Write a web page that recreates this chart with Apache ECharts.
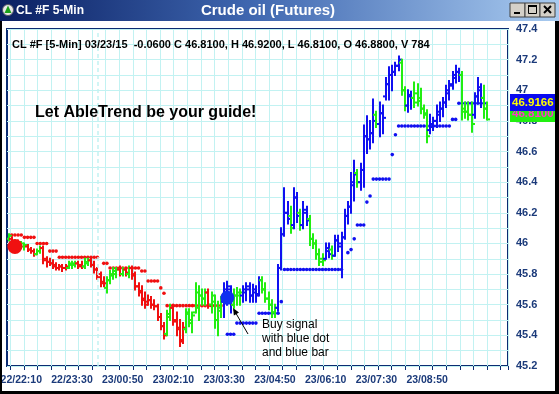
<!DOCTYPE html>
<html>
<head>
<meta charset="utf-8">
<script src="https://cdn.jsdelivr.net/npm/echarts@6/dist/echarts.min.js"></script>
<style>
html, body { margin: 0; padding: 0; background: #fff; }
#main { width: 559px; height: 394px; }
</style>
</head>
<body>
<div id="main"></div>
<script>
// x axis labels shown under the chart
var tickLabels = ['22/22:10', '22/23:30', '23/00:50', '23/02:10', '23/03:30', '23/04:50', '23/06:10', '23/07:30', '23/08:50'];

// 5-min OHLC bars
var opens = [
  46.03, 46.03, 46.0, 46.01, 45.98, 45.98, 45.98, 45.96, 45.95, 45.93,
  45.95, 45.97, 45.9, 45.88, 45.87, 45.86, 45.84, 45.85, 45.84, 45.84,
  45.86, 45.86, 45.87, 45.86, 45.85, 45.87, 45.89, 45.86, 45.83, 45.8,
  45.75, 45.71, 45.76, 45.79, 45.8, 45.83, 45.8, 45.83, 45.8, 45.84,
  45.8, 45.72, 45.69, 45.64, 45.62, 45.63, 45.6, 45.59, 45.52, 45.46,
  45.41, 45.52, 45.58, 45.5, 45.45, 45.37, 45.44, 45.54, 45.48, 45.55,
  45.58, 45.66, 45.64, 45.68, 45.6, 45.62, 45.5, 45.56, 45.62, 45.68,
  45.7, 45.6, 45.66, 45.66, 45.66, 45.68, 45.7, 45.66, 45.68, 45.67,
  45.76, 45.7, 45.64, 45.6, 45.55, 45.58, 45.84, 46.06, 46.2, 46.18,
  46.12, 46.3, 46.2, 46.12, 46.2, 46.16, 46.03, 46.0, 45.93, 45.9,
  45.9, 45.95, 45.96, 45.92, 46.02, 45.98, 46.04, 46.18, 46.24, 46.38,
  46.46, 46.4, 46.48, 46.7, 46.68, 46.72, 46.84, 46.78, 46.85, 46.96,
  47.04, 47.1, 47.12, 47.16, 47.18, 47.0, 46.9, 46.96, 46.95, 46.98,
  46.95, 46.88, 46.84, 46.74, 46.76, 46.8, 46.84, 46.88, 46.92, 46.98,
  47.03, 47.08, 47.12, 47.1, 46.88, 46.86, 46.84, 46.84, 46.96, 47.0,
  46.95, 46.88
];
var highs = [
  46.06, 46.04, 46.02, 46.02, 46.01, 46.0, 45.99, 45.97, 45.96, 45.96,
  45.98, 45.98, 45.91, 45.9, 45.89, 45.87, 45.86, 45.86, 45.86, 45.88,
  45.88, 45.88, 45.88, 45.88, 45.9, 45.9, 45.9, 45.88, 45.84, 45.81,
  45.78, 45.78, 45.82, 45.84, 45.84, 45.85, 45.84, 45.84, 45.85, 45.85,
  45.81, 45.74, 45.72, 45.68, 45.66, 45.65, 45.63, 45.6, 45.54, 45.48,
  45.56, 45.6, 45.6, 45.55, 45.5, 45.48, 45.57, 45.57, 45.55, 45.74,
  45.72, 45.7, 45.7, 45.7, 45.68, 45.66, 45.62, 45.65, 45.74, 45.75,
  45.72, 45.7, 45.71, 45.7, 45.72, 45.74, 45.74, 45.73, 45.72, 45.78,
  45.78, 45.74, 45.68, 45.63, 45.6, 45.86, 46.1, 46.36, 46.27, 46.24,
  46.36, 46.33, 46.22, 46.27, 46.24, 46.18, 46.06, 46.02, 45.96, 45.93,
  46.0, 46.0, 45.98, 46.05, 46.05, 46.07, 46.22, 46.27, 46.46, 46.54,
  46.48, 46.52, 46.77, 46.83, 46.8, 46.94, 46.86, 46.92, 46.9, 47.08,
  47.15, 47.16, 47.18, 47.22, 47.2, 47.02, 47.0, 46.99, 47.05, 47.04,
  47.01, 46.9, 46.87, 46.84, 46.82, 46.9, 46.92, 46.95, 47.03, 47.06,
  47.12, 47.16, 47.14, 47.12, 46.92, 46.92, 46.92, 46.98, 47.08, 47.04,
  47.03, 46.92
];
var lows = [
  46.02, 45.98, 45.97, 45.97, 45.97, 45.96, 45.95, 45.94, 45.92, 45.93,
  45.94, 45.87, 45.85, 45.86, 45.84, 45.83, 45.83, 45.82, 45.83, 45.84,
  45.84, 45.85, 45.84, 45.84, 45.84, 45.86, 45.85, 45.81, 45.77, 45.72,
  45.72, 45.68, 45.74, 45.77, 45.78, 45.79, 45.79, 45.79, 45.78, 45.77,
  45.7, 45.66, 45.6, 45.58, 45.6, 45.58, 45.57, 45.5, 45.44, 45.38,
  45.4, 45.5, 45.47, 45.4, 45.33, 45.35, 45.42, 45.46, 45.42, 45.55,
  45.5, 45.6, 45.6, 45.58, 45.55, 45.45, 45.4, 45.52, 45.52, 45.6,
  45.55, 45.58, 45.6, 45.6, 45.62, 45.63, 45.62, 45.62, 45.62, 45.66,
  45.68, 45.62, 45.57, 45.52, 45.52, 45.56, 45.83, 46.05, 46.13, 46.07,
  46.1, 46.14, 46.09, 46.1, 46.12, 45.99, 45.97, 45.9, 45.86, 45.86,
  45.9, 45.91, 45.9, 45.92, 45.95, 45.78, 46.03, 46.13, 46.2, 46.28,
  46.37, 46.35, 46.37, 46.59, 46.62, 46.66, 46.76, 46.7, 46.72, 46.94,
  46.94, 47.0, 47.1, 47.13, 46.97, 46.87, 46.86, 46.88, 46.89, 46.9,
  46.85, 46.82, 46.66, 46.72, 46.74, 46.76, 46.8, 46.83, 46.89, 46.94,
  47.01, 47.05, 47.06, 46.81, 46.82, 46.81, 46.73, 46.82, 46.92, 46.89,
  46.82, 46.81
];
var closes = [
  46.05, 46.0, 46.01, 45.99, 46.0, 45.99, 45.96, 45.95, 45.93, 45.95,
  45.97, 45.89, 45.88, 45.87, 45.85, 45.84, 45.85, 45.84, 45.85, 45.87,
  45.87, 45.87, 45.85, 45.85, 45.88, 45.89, 45.86, 45.83, 45.78, 45.74,
  45.74, 45.76, 45.8, 45.82, 45.83, 45.8, 45.83, 45.81, 45.84, 45.79,
  45.72, 45.68, 45.63, 45.6, 45.63, 45.6, 45.59, 45.52, 45.46, 45.4,
  45.54, 45.58, 45.49, 45.44, 45.36, 45.45, 45.55, 45.5, 45.53, 45.68,
  45.66, 45.64, 45.68, 45.6, 45.66, 45.5, 45.58, 45.62, 45.7, 45.72,
  45.6, 45.66, 45.68, 45.68, 45.7, 45.72, 45.66, 45.7, 45.66, 45.76,
  45.7, 45.64, 45.6, 45.55, 45.58, 45.84, 46.06, 46.2, 46.16, 46.1,
  46.3, 46.18, 46.12, 46.22, 46.15, 46.03, 46.0, 45.93, 45.88, 45.89,
  45.97, 45.93, 45.92, 46.02, 46.0, 46.04, 46.18, 46.24, 46.4, 46.45,
  46.4, 46.48, 46.7, 46.68, 46.72, 46.8, 46.78, 46.85, 46.82, 47.04,
  47.1, 47.12, 47.16, 47.2, 47.0, 46.9, 46.97, 46.95, 46.92, 46.93,
  46.88, 46.85, 46.7, 46.78, 46.8, 46.86, 46.88, 46.92, 47.0, 47.04,
  47.1, 47.12, 47.1, 46.86, 46.86, 46.84, 46.78, 46.96, 47.02, 46.95,
  46.88, 46.81
];
// trend colour of each bar: r = down, g = neutral, b = up
var barColors = (
  'grgrggrrrg' + 'grrrrrrrrg' + 'ggrrggrrrr' + 'rggggrgrgr' + 'rrrrrrrrrr' +
  'ggrrrrgggg' + 'gggrggggbb' + 'bgggbbbbbb' + 'gggggbbbbg' + 'bbgbbggggg' +
  'bbgbbbbbbb' + 'gbbbbbgbbb' + 'bbbbggbbgg' + 'gggbbbbbbb' + 'bbbggggbbb' + 'gg'
).split('');

// trailing stop dots: [bar index, price]
var redStops = [
  [1, 46.055], [2, 46.055], [3, 46.055], [4, 46.055],
  [5, 46.04], [6, 46.04], [7, 46.04], [8, 46.04],
  [9, 46.0], [10, 46.0], [11, 46.0], [12, 46.0],
  [13, 45.95], [14, 45.95], [15, 45.95],
  [16, 45.91], [17, 45.91], [18, 45.91], [19, 45.91], [20, 45.91], [21, 45.91], [22, 45.91],
  [23, 45.91], [24, 45.91], [25, 45.91], [26, 45.91], [27, 45.91], [28, 45.91],
  [30, 45.87], [31, 45.87],
  [32, 45.84], [33, 45.84], [34, 45.84], [35, 45.84], [36, 45.84], [37, 45.84], [38, 45.84],
  [39, 45.84], [40, 45.84], [41, 45.84],
  [42, 45.82], [43, 45.82],
  [44, 45.755], [45, 45.755], [46, 45.755], [47, 45.755],
  [48, 45.71], [49, 45.675],
  [50, 45.594], [51, 45.594], [52, 45.594], [53, 45.594], [54, 45.594], [55, 45.594],
  [56, 45.594], [57, 45.594], [58, 45.594], [59, 45.594], [60, 45.594], [61, 45.594],
  [62, 45.594], [63, 45.594], [64, 45.594], [65, 45.594], [66, 45.594], [67, 45.594]
];
var blueStops = [
  [69, 45.407], [70, 45.407], [71, 45.407],
  [72, 45.48], [73, 45.48], [74, 45.48], [75, 45.48], [76, 45.48], [77, 45.48], [78, 45.48],
  [79, 45.544], [80, 45.544], [81, 45.544], [82, 45.544], [83, 45.544], [84, 45.544], [85, 45.544],
  [86, 45.62],
  [87, 45.83], [88, 45.83], [89, 45.83], [90, 45.83], [91, 45.83], [92, 45.83], [93, 45.83],
  [94, 45.83], [95, 45.83], [96, 45.83], [97, 45.83], [98, 45.83], [99, 45.83], [100, 45.83],
  [101, 45.83], [102, 45.83], [103, 45.83], [104, 45.83], [105, 45.83],
  [107, 45.94], [108, 45.96], [109, 46.03],
  [110, 46.12], [111, 46.12], [112, 46.12],
  [113, 46.27], [114, 46.31],
  [115, 46.42], [116, 46.42], [117, 46.42], [118, 46.42], [119, 46.42], [120, 46.42],
  [121, 46.58], [122, 46.71],
  [123, 46.767], [124, 46.767], [125, 46.767], [126, 46.767], [127, 46.767], [128, 46.767],
  [129, 46.767], [130, 46.767], [131, 46.767], [132, 46.767], [133, 46.767], [134, 46.767],
  [135, 46.767], [136, 46.767], [137, 46.767], [138, 46.767], [139, 46.767],
  [140, 46.81], [141, 46.81],
  [142, 46.915], [143, 46.915], [144, 46.915], [145, 46.915], [146, 46.915], [147, 46.915],
  [148, 46.915], [149, 46.915], [150, 46.915]
];
var sellSignal = [[2, 45.98]];
var buySignal = [[69, 45.646]];
var lastStop = 46.9166;
var lastClose = 46.81;
var sessionBreak = 28;

var colorMap = { r: '#f01010', g: '#22ee11', b: '#1010f0' };
var navy = '#1b3a7a';
var gridCyan = '#c2f2f2';
var font = '"Liberation Sans", Arial, sans-serif';

function pad(n) { return n < 10 ? '0' + n : '' + n; }
var categories = [];
for (var i = 0; i < 158; i++) {
  var m = 21 * 60 + 50 + 5 * i;
  var d = m >= 1440 ? 23 : 22;
  m = m % 1440;
  categories.push(d + '/' + pad(Math.floor(m / 60)) + ':' + pad(m % 60));
}

var ohlc = opens.map(function (o, i) {
  return [i, o, highs[i], lows[i], closes[i]];
});

function renderBar(params, api) {
  var i = api.value(0);
  var hi = api.coord([i, api.value(2)]);
  var lo = api.coord([i, api.value(3)]);
  var op = api.coord([i, api.value(1)]);
  var cl = api.coord([i, api.value(4)]);
  var x = Math.round(hi[0]);
  var col = colorMap[barColors[params.dataIndex]];
  var st = { stroke: col, lineWidth: 2 };
  return {
    type: 'group',
    children: [
      { type: 'line', shape: { x1: x, y1: hi[1] - 1, x2: x, y2: lo[1] + 1 }, style: st },
      { type: 'line', shape: { x1: x - 3, y1: op[1], x2: x, y2: op[1] }, style: st },
      { type: 'line', shape: { x1: x, y1: cl[1], x2: x + 3, y2: cl[1] }, style: st }
    ]
  };
}

var chart = echarts.init(document.getElementById('main'));

var option = {
  backgroundColor: '#ffffff',
  animation: false,
  grid: [
    { left: 7, right: 51, top: 29, bottom: 28, show: true, borderColor: '#0c2c72', borderWidth: 2, backgroundColor: 'transparent', outerBoundsMode: 'none', containLabel: false },
    { left: 10.3, right: 51, top: 29, bottom: 28, show: false, outerBoundsMode: 'none', containLabel: false }
  ],
  xAxis: [
    {
      type: 'category', gridIndex: 0, data: categories, boundaryGap: true,
      axisLine: { show: false }, axisTick: { show: false }, splitLine: { show: false },
      axisLabel: {
        interval: function (idx, val) { return tickLabels.indexOf(val) >= 0; },
        color: navy, fontWeight: 'bold', fontSize: 10.5, fontFamily: font, margin: 9
      }
    },
    {
      type: 'value', gridIndex: 1, min: 0, max: 36.54, interval: 1,
      axisLine: { show: false }, axisLabel: { show: false },
      axisTick: { show: true, length: 4, lineStyle: { color: '#0c2c72', width: 1 } },
      splitLine: { show: true, lineStyle: { color: gridCyan, width: 1 } }
    }
  ],
  yAxis: [
    {
      type: 'value', gridIndex: 0, position: 'right', min: 45.2, max: 47.4, interval: 0.2,
      axisLine: { show: false }, axisTick: { show: false },
      axisLabel: {
        color: navy, fontWeight: 'bold', fontSize: 11, fontFamily: font, margin: 8,
        formatter: function (v) { return String(Math.round(v * 10) / 10); }
      },
      splitLine: { show: true, lineStyle: { color: gridCyan, width: 1 } },
      minorTick: { show: false, splitNumber: 2 },
      minorSplitLine: { show: true, lineStyle: { color: gridCyan, width: 1 } }
    },
    { type: 'value', gridIndex: 1, min: 0, max: 1, show: false }
  ],
  series: [
    {
      name: 'red stop', type: 'scatter', data: redStops, symbol: 'circle', symbolSize: 3.6,
      itemStyle: { color: '#f01010', opacity: 1 }, z: 3,
      markLine: {
        silent: true, symbol: 'none',
        lineStyle: { color: gridCyan, type: [4, 3], width: 1.5 },
        label: { show: false },
        data: [{ xAxis: categories[sessionBreak] }]
      }
    },
    {
      name: 'blue stop', type: 'scatter', data: blueStops, symbol: 'circle', symbolSize: 3.6,
      itemStyle: { color: '#1010f0', opacity: 1 }, z: 3
    },
    {
      name: 'bars', type: 'custom', renderItem: renderBar, data: ohlc,
      encode: { x: 0, y: [1, 2, 3, 4] }, clip: true, z: 4
    },
    {
      name: 'sell signal', type: 'scatter', data: sellSignal, symbol: 'circle', symbolSize: 15,
      itemStyle: { color: '#f01010', opacity: 1 }, z: 6,
      markLine: {
        silent: true, symbol: 'none',
        lineStyle: { color: 'rgba(0,0,0,0)', width: 0 },
        label: {
          show: true, position: 'end', distance: 2, formatter: lastClose.toFixed(4),
          backgroundColor: '#22f011', color: '#ff33cc', fontWeight: 'bold', fontSize: 11.5,
          fontFamily: font, padding: [3, 2, 2, 2], offset: [0, -6]
        },
        data: [{ yAxis: lastClose }]
      }
    },
    {
      name: 'buy signal', type: 'scatter', data: buySignal, symbol: 'circle', symbolSize: 14,
      itemStyle: { color: '#1030f0', opacity: 1 }, z: 6,
      markLine: {
        silent: true, symbol: 'none',
        lineStyle: { color: 'rgba(0,0,0,0)', width: 0 },
        label: {
          show: true, position: 'end', distance: 2, formatter: String(lastStop),
          backgroundColor: '#0a0af0', color: '#ffff00', fontWeight: 'bold', fontSize: 11.5,
          fontFamily: font, padding: [3, 2, 2, 2]
        },
        data: [{ yAxis: lastStop }]
      }
    }
  ],
  graphic: [
    // window frame
    {
      type: 'rect', shape: { x: 0, y: 0, width: 559, height: 21 }, z: 100,
      style: {
        fill: new echarts.graphic.LinearGradient(0, 0, 1, 0, [
          { offset: 0, color: '#0a1f62' }, { offset: 0.45, color: '#3f67b0' }, { offset: 1, color: '#a9cbf0' }
        ])
      }
    },
    { type: 'rect', shape: { x: 0, y: 21, width: 2, height: 373 }, style: { fill: '#000' }, z: 100 },
    { type: 'rect', shape: { x: 555, y: 21, width: 4, height: 373 }, style: { fill: '#000' }, z: 100 },
    { type: 'rect', shape: { x: 0, y: 391, width: 559, height: 3 }, style: { fill: '#000' }, z: 100 },
    { type: 'circle', shape: { cx: 8, cy: 10, r: 5.5 }, style: { fill: '#e8e8e8', stroke: '#556', lineWidth: 1 }, z: 101 },
    { type: 'polygon', shape: { points: [[8, 5.5], [11.5, 13], [4.5, 13]] }, style: { fill: '#1aa01a' }, z: 102 },
    {
      type: 'text', x: 16, y: 11, z: 101,
      style: { text: 'CL #F 5-Min', fill: '#fff', font: 'bold 12px ' + font, verticalAlign: 'middle' }
    },
    {
      type: 'text', x: 268, y: 11, z: 101,
      style: { text: 'Crude oil (Futures)', fill: '#fff', font: 'bold 15px ' + font, align: 'center', verticalAlign: 'middle' }
    },
    // window buttons
    { type: 'rect', shape: { x: 510, y: 3, width: 15, height: 14 }, style: { fill: '#d4d0c8', stroke: '#404040', lineWidth: 1 }, z: 101 },
    { type: 'rect', shape: { x: 525, y: 3, width: 15, height: 14 }, style: { fill: '#d4d0c8', stroke: '#404040', lineWidth: 1 }, z: 101 },
    { type: 'rect', shape: { x: 540, y: 3, width: 15, height: 14 }, style: { fill: '#d4d0c8', stroke: '#404040', lineWidth: 1 }, z: 101 },
    { type: 'rect', shape: { x: 514, y: 12, width: 6, height: 2 }, style: { fill: '#000' }, z: 102 },
    { type: 'rect', shape: { x: 528.5, y: 5.5, width: 8, height: 8 }, style: { fill: 'none', stroke: '#000', lineWidth: 1 }, z: 102 },
    { type: 'rect', shape: { x: 528, y: 5, width: 9, height: 2 }, style: { fill: '#000' }, z: 102 },
    { type: 'line', shape: { x1: 544, y1: 6, x2: 551, y2: 13 }, style: { stroke: '#000', lineWidth: 2 }, z: 102 },
    { type: 'line', shape: { x1: 551, y1: 6, x2: 544, y2: 13 }, style: { stroke: '#000', lineWidth: 2 }, z: 102 },
    // header line inside the chart
    {
      type: 'text', x: 12, y: 45, z: 50,
      style: {
        text: 'CL #F [5-Min] 03/23/15  -0.0600 C 46.8100, H 46.9200, L 46.8100, O 46.8800, V 784',
        fill: '#000', font: 'bold 11px ' + font, verticalAlign: 'middle'
      }
    },
    {
      type: 'text', x: 35, y: 113, z: 50,
      style: { text: 'Let AbleTrend be your guide!', fill: '#000', font: 'bold 16px ' + font, verticalAlign: 'middle' }
    },
    {
      type: 'text', x: 262, y: 318, z: 50,
      style: { text: 'Buy signal\nwith blue dot\nand blue bar', fill: '#000', font: '12px ' + font, lineHeight: 14 }
    },
    { type: 'line', shape: { x1: 248, y1: 334, x2: 234, y2: 310 }, style: { stroke: '#000', lineWidth: 1 }, z: 50 },
    { type: 'polygon', shape: { points: [[233, 308], [239, 312.6], [233.9, 315.6]] }, style: { fill: '#000' }, z: 50 }
  ]
};

chart.setOption(option);
</script>
</body>
</html>
